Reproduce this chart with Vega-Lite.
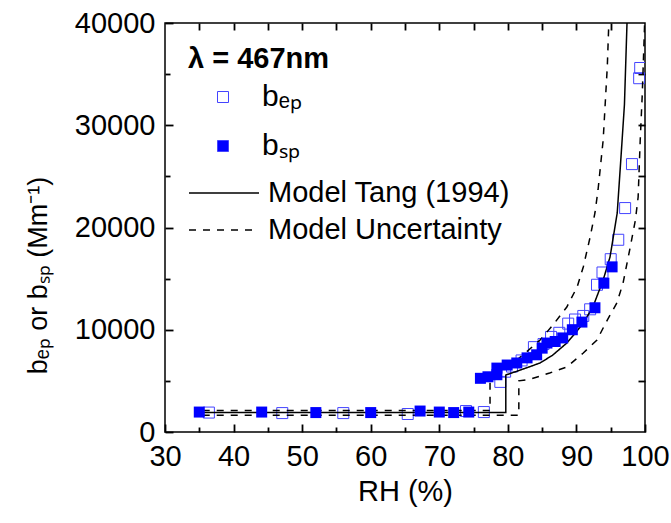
{
  "$schema": "https://vega.github.io/schema/vega-lite/v6.json",
  "width": 480,
  "height": 409,
  "autosize": {"type": "none"},
  "padding": {"left": 165, "top": 23, "right": 26, "bottom": 91},
  "background": "white",
  "config": {
    "font": "Liberation Sans",
    "view": {"stroke": "black", "strokeWidth": 1.5, "fill": null},
    "axis": {"domain": false, "ticks": true, "tickColor": "black", "tickWidth": 1.8, "tickOpacity": 1, "zindex": 2, "grid": false, "labelFont": "Liberation Sans", "titleFont": "Liberation Sans", "labelColor": "black", "titleColor": "black", "titleFontWeight": "normal"},
    "legend": {"labelFont": "Liberation Sans", "titleFont": "Liberation Sans", "labelColor": "black", "titleColor": "black", "labelLimit": 500, "titleLimit": 500}
  },
  "datasets": {
    "ep": [
      {"rh": 36.4, "v": 1900, "s": "bₑₚ"}, {"rh": 47.1, "v": 1850, "s": "bₑₚ"}, {"rh": 56, "v": 1850, "s": "bₑₚ"},
      {"rh": 65.4, "v": 1760, "s": "bₑₚ"}, {"rh": 73.9, "v": 2050, "s": "bₑₚ"}, {"rh": 76.5, "v": 1950, "s": "bₑₚ"},
      {"rh": 78.9, "v": 4900, "s": "bₑₚ"}, {"rh": 79.6, "v": 5900, "s": "bₑₚ"}, {"rh": 80.6, "v": 6400, "s": "bₑₚ"},
      {"rh": 82.0, "v": 7000, "s": "bₑₚ"}, {"rh": 83.8, "v": 8300, "s": "bₑₚ"}, {"rh": 85.2, "v": 8600, "s": "bₑₚ"},
      {"rh": 86.3, "v": 9300, "s": "bₑₚ"}, {"rh": 87.5, "v": 9700, "s": "bₑₚ"}, {"rh": 88.8, "v": 10600, "s": "bₑₚ"},
      {"rh": 89.8, "v": 11000, "s": "bₑₚ"}, {"rh": 91.0, "v": 11350, "s": "bₑₚ"}, {"rh": 92.0, "v": 12000, "s": "bₑₚ"},
      {"rh": 93.0, "v": 14400, "s": "bₑₚ"}, {"rh": 93.8, "v": 15600, "s": "bₑₚ"}, {"rh": 95.0, "v": 16900, "s": "bₑₚ"},
      {"rh": 96.1, "v": 18800, "s": "bₑₚ"}, {"rh": 97.1, "v": 21900, "s": "bₑₚ"}, {"rh": 98.1, "v": 26200, "s": "bₑₚ"},
      {"rh": 99.15, "v": 34600, "s": "bₑₚ"}, {"rh": 99.3, "v": 35600, "s": "bₑₚ"}
    ],
    "sp": [
      {"rh": 35, "v": 1950, "s": "bₛₚ"}, {"rh": 44.1, "v": 1950, "s": "bₛₚ"}, {"rh": 52, "v": 1900, "s": "bₛₚ"},
      {"rh": 60, "v": 1900, "s": "bₛₚ"}, {"rh": 67.2, "v": 2050, "s": "bₛₚ"}, {"rh": 70, "v": 1950, "s": "bₛₚ"},
      {"rh": 72.1, "v": 1900, "s": "bₛₚ"}, {"rh": 74.3, "v": 1950, "s": "bₛₚ"},
      {"rh": 76.0, "v": 5250, "s": "bₛₚ"}, {"rh": 77.1, "v": 5400, "s": "bₛₚ"}, {"rh": 78.4, "v": 5600, "s": "bₛₚ"},
      {"rh": 78.4, "v": 6250, "s": "bₛₚ"}, {"rh": 79.9, "v": 6550, "s": "bₛₚ"}, {"rh": 81.3, "v": 6750, "s": "bₛₚ"},
      {"rh": 82.8, "v": 7250, "s": "bₛₚ"}, {"rh": 84.2, "v": 7550, "s": "bₛₚ"}, {"rh": 85.0, "v": 8200, "s": "bₛₚ"},
      {"rh": 85.7, "v": 8700, "s": "bₛₚ"}, {"rh": 86.9, "v": 8850, "s": "bₛₚ"}, {"rh": 88.0, "v": 9200, "s": "bₛₚ"},
      {"rh": 89.4, "v": 10000, "s": "bₛₚ"}, {"rh": 90.8, "v": 10750, "s": "bₛₚ"}, {"rh": 92.7, "v": 12150, "s": "bₛₚ"},
      {"rh": 94.0, "v": 14550, "s": "bₛₚ"}, {"rh": 95.2, "v": 16150, "s": "bₛₚ"}
    ],
    "model": [
      {"c": "m", "t": "Model  Tang (1994)", "i": 0, "rh": 35.5, "v": 1900},
      {"c": "m", "t": "Model  Tang (1994)", "i": 1, "rh": 79.7, "v": 1900},
      {"c": "m", "t": "Model  Tang (1994)", "i": 2, "rh": 79.7, "v": 5575},
      {"c": "m", "t": "Model  Tang (1994)", "i": 3, "rh": 82, "v": 6100},
      {"c": "m", "t": "Model  Tang (1994)", "i": 4, "rh": 84.7, "v": 6750},
      {"c": "m", "t": "Model  Tang (1994)", "i": 5, "rh": 86.5, "v": 7500},
      {"c": "m", "t": "Model  Tang (1994)", "i": 6, "rh": 88.6, "v": 8700},
      {"c": "m", "t": "Model  Tang (1994)", "i": 7, "rh": 90, "v": 9800},
      {"c": "m", "t": "Model  Tang (1994)", "i": 8, "rh": 91, "v": 10660},
      {"c": "m", "t": "Model  Tang (1994)", "i": 9, "rh": 92.4, "v": 12225},
      {"c": "m", "t": "Model  Tang (1994)", "i": 10, "rh": 93.9, "v": 14865},
      {"c": "m", "t": "Model  Tang (1994)", "i": 11, "rh": 94.9, "v": 17115},
      {"c": "m", "t": "Model  Tang (1994)", "i": 12, "rh": 95.95, "v": 21420},
      {"c": "m", "t": "Model  Tang (1994)", "i": 13, "rh": 96.5, "v": 26900},
      {"c": "m", "t": "Model  Tang (1994)", "i": 14, "rh": 97.0, "v": 32000},
      {"c": "m", "t": "Model  Tang (1994)", "i": 15, "rh": 97.4, "v": 40500},
      {"c": "u", "t": "Model Uncertainty", "i": 0, "rh": 35.5, "v": 2100},
      {"c": "u", "t": "Model Uncertainty", "i": 1, "rh": 77.4, "v": 2100},
      {"c": "u", "t": "Model Uncertainty", "i": 2, "rh": 77.4, "v": 5000},
      {"c": "u", "t": "Model Uncertainty", "i": 3, "rh": 80, "v": 6300},
      {"c": "u", "t": "Model Uncertainty", "i": 4, "rh": 82.5, "v": 7700},
      {"c": "u", "t": "Model Uncertainty", "i": 5, "rh": 84.7, "v": 9000},
      {"c": "u", "t": "Model Uncertainty", "i": 6, "rh": 86.5, "v": 10400},
      {"c": "u", "t": "Model Uncertainty", "i": 7, "rh": 88.6, "v": 12225},
      {"c": "u", "t": "Model Uncertainty", "i": 8, "rh": 90.1, "v": 14180},
      {"c": "u", "t": "Model Uncertainty", "i": 9, "rh": 91, "v": 16140},
      {"c": "u", "t": "Model Uncertainty", "i": 10, "rh": 92, "v": 19070},
      {"c": "u", "t": "Model Uncertainty", "i": 11, "rh": 92.7, "v": 21420},
      {"c": "u", "t": "Model Uncertainty", "i": 12, "rh": 93.15, "v": 23670},
      {"c": "u", "t": "Model Uncertainty", "i": 13, "rh": 93.9, "v": 28560},
      {"c": "u", "t": "Model Uncertainty", "i": 14, "rh": 94.5, "v": 35700},
      {"c": "u", "t": "Model Uncertainty", "i": 15, "rh": 94.75, "v": 40500},
      {"c": "l", "t": "Model Uncertainty", "i": 0, "rh": 35.5, "v": 1650},
      {"c": "l", "t": "Model Uncertainty", "i": 1, "rh": 81.6, "v": 1650},
      {"c": "l", "t": "Model Uncertainty", "i": 2, "rh": 81.6, "v": 5000},
      {"c": "l", "t": "Model Uncertainty", "i": 3, "rh": 83.2, "v": 5150},
      {"c": "l", "t": "Model Uncertainty", "i": 4, "rh": 86.1, "v": 5770},
      {"c": "l", "t": "Model Uncertainty", "i": 5, "rh": 88.6, "v": 6360},
      {"c": "l", "t": "Model Uncertainty", "i": 6, "rh": 91, "v": 7730},
      {"c": "l", "t": "Model Uncertainty", "i": 7, "rh": 93, "v": 9000},
      {"c": "l", "t": "Model Uncertainty", "i": 8, "rh": 94.5, "v": 10950},
      {"c": "l", "t": "Model Uncertainty", "i": 9, "rh": 95.9, "v": 12620},
      {"c": "l", "t": "Model Uncertainty", "i": 10, "rh": 96.8, "v": 14570},
      {"c": "l", "t": "Model Uncertainty", "i": 11, "rh": 97.85, "v": 18090},
      {"c": "l", "t": "Model Uncertainty", "i": 12, "rh": 98.6, "v": 20730},
      {"c": "l", "t": "Model Uncertainty", "i": 13, "rh": 99.0, "v": 22980},
      {"c": "l", "t": "Model Uncertainty", "i": 14, "rh": 99.3, "v": 28500},
      {"c": "l", "t": "Model Uncertainty", "i": 15, "rh": 99.6, "v": 33000},
      {"c": "l", "t": "Model Uncertainty", "i": 16, "rh": 100, "v": 41000}
    ]
  },
  "resolve": {"axis": {"x": "independent", "y": "independent"}},
  "layer": [
    {
      "data": {"name": "ep"},
      "mark": {"type": "point", "shape": "square", "size": 121, "filled": true, "stroke": "#4444ff", "strokeWidth": 1, "opacity": 1, "clip": true},
      "encoding": {
        "x": {"field": "rh", "type": "quantitative", "scale": {"domain": [30, 100], "nice": false},
          "axis": {"orient": "bottom", "title": "RH (%)", "values": [30, 40, 50, 60, 70, 80, 90, 100], "format": "d",
            "offset": -8, "tickSize": 8, "ticks": true, "labelFontSize": 29, "titleFontSize": 29, "labelPadding": 10, "titlePadding": 6,
            "labelFlush": false, "labelOverlap": false}},
        "y": {"field": "v", "type": "quantitative", "scale": {"domain": [0, 40000], "nice": false},
          "axis": {"orient": "left", "title": "bₑₚ or bₛₚ (Mm⁻¹)", "values": [0, 10000, 20000, 30000, 40000], "format": "d",
            "offset": -8, "tickSize": 8, "ticks": true, "labelFontSize": 29, "titleFontSize": 27, "labelPadding": 10, "titlePadding": 22, "titleY": 252,
            "labelFlush": false, "labelOverlap": false}},
        "fill": {"field": "s", "type": "nominal", "scale": {"domain": ["bₑₚ", "bₛₚ"], "range": ["transparent", "#0000ff"]},
          "legend": {"title": "λ = 467nm", "orient": "none", "legendX": 23, "legendY": 22, "titleFontSize": 29, "titleFontWeight": "bold", "titlePadding": 8,
            "labelFontSize": 30, "symbolType": "square", "symbolSize": 121, "symbolStrokeColor": "#4444ff", "symbolStrokeWidth": 1,
            "symbolOffset": 20, "labelOffset": 24, "clipHeight": 30, "rowPadding": 19, "padding": 0}}
      }
    },
    {
      "data": {"name": "model"},
      "mark": {"type": "line", "color": "black", "strokeWidth": 1.5, "clip": true},
      "encoding": {
        "x": {"field": "rh", "type": "quantitative",
          "axis": {"orient": "bottom", "title": null, "labels": false, "ticks": true, "values": [35, 45, 55, 65, 75, 85, 95], "offset": -5, "tickSize": 5}},
        "y": {"field": "v", "type": "quantitative",
          "axis": {"orient": "left", "title": null, "labels": false, "ticks": true, "values": [5000, 15000, 25000, 35000], "offset": -5, "tickSize": 5}},
        "detail": {"field": "c", "type": "nominal"},
        "order": {"field": "i", "type": "quantitative"},
        "strokeDash": {"field": "t", "type": "nominal", "scale": {"domain": ["Model  Tang (1994)", "Model Uncertainty"], "range": [[1, 0], [7, 7]]},
          "legend": {"title": null, "orient": "none", "legendX": 23, "legendY": 155, "labelFontSize": 29, "symbolType": "stroke", "symbolSize": 4900,
            "symbolStrokeColor": "black", "symbolStrokeWidth": 1.5, "labelOffset": 8, "clipHeight": 30, "rowPadding": 7, "padding": 0}}
      }
    },
    {
      "data": {"name": "sp"},
      "mark": {"type": "point", "shape": "square", "size": 121, "filled": true, "strokeWidth": 0, "opacity": 1, "clip": true},
      "encoding": {
        "x": {"field": "rh", "type": "quantitative",
          "axis": {"orient": "top", "title": null, "labels": false, "ticks": true, "values": [35, 40, 45, 50, 55, 60, 65, 70, 75, 80, 85, 90, 95],
            "offset": -7, "tickSize": 7}},
        "y": {"field": "v", "type": "quantitative",
          "axis": {"orient": "right", "title": null, "labels": false, "ticks": true, "values": [5000, 10000, 15000, 20000, 25000, 30000, 35000],
            "offset": -7, "tickSize": 7}},
        "fill": {"field": "s", "type": "nominal"}
      }
    }
  ]
}
